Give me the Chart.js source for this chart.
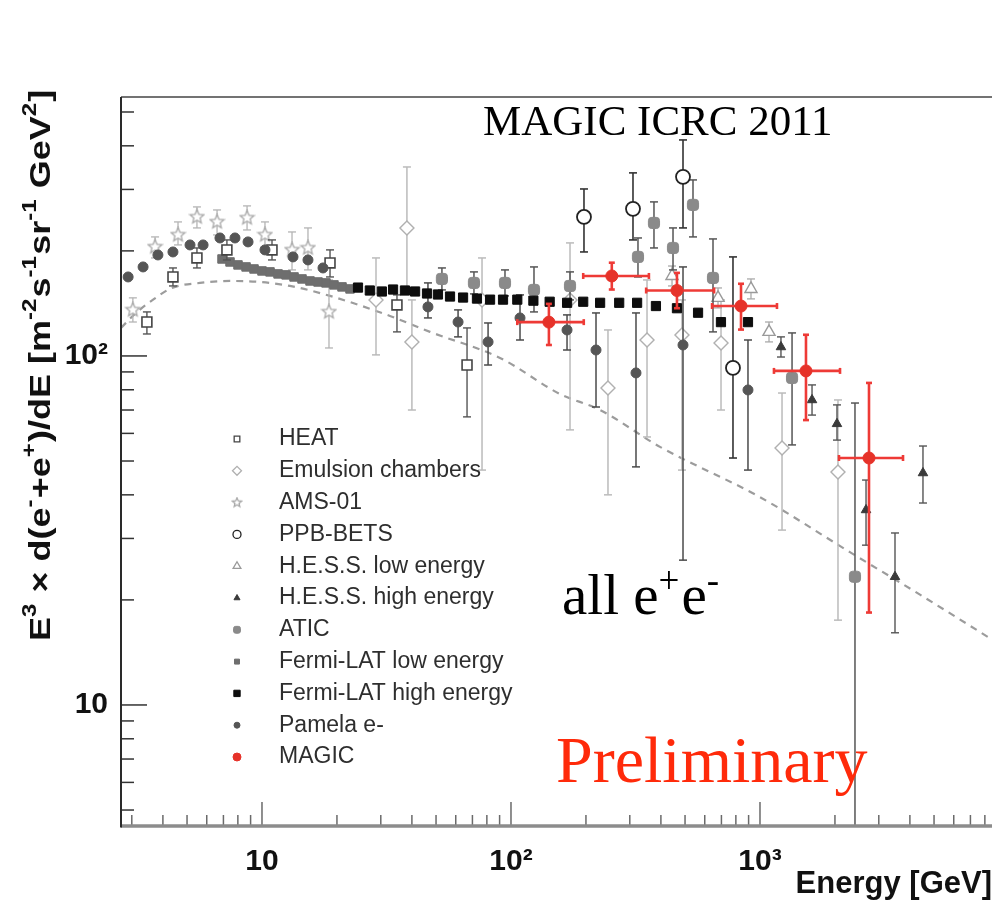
<!DOCTYPE html>
<html>
<head>
<meta charset="utf-8">
<script src="https://cdn.jsdelivr.net/npm/chart.js@4.4.1/dist/chart.umd.min.js"></script>
<style>
  html, body { margin: 0; padding: 0; background: #fff; }
  canvas { display: block; }
</style>
</head>
<body>
<canvas id="c" width="992" height="903"></canvas>
<script>
// ---- Data: energy E [GeV], E^3-weighted flux F and its lower / upper limits ----
const heatE  = [3.45, 4.39, 5.48, 7.23, 10.97, 18.76, 34.84, 66.6];
const heatF  = [125.1, 168.4, 190.9, 201.3, 201.3, 184.7, 140.0, 94.2];
const heatLo = [115.6, 158.7, 178.7, 188.4, 188.4, 168.4, 117.2, 66.9];
const heatHi = [133.7, 178.7, 203.9, 215.0, 215.0, 201.3, 149.6, 120.3];

const emulsionE  = [28.7, 38.2, 40.0, 76.5, 172.6, 245.2, 351.8, 486, 697.4, 1226, 2057];
const emulsionF  = [144.7, 232.7, 109.7, 144.7, 144.7, 81.0, 111.1, 114.9, 108.9, 54.5, 46.5];
const emulsionLo = [100.7, 154.6, 70.0, 47.1, 61.4, 40.0, 58.6, 47.1, 70.0, 31.7, 17.5];
const emulsionHi = [190.9, 347.9, 144.7, 190.9, 210.8, 118.7, 165.1, 144.7, 144.7, 78.3, 74.8];

const amsE  = [3.03, 3.72, 4.60, 5.48, 6.60, 8.71, 10.28, 13.2, 15.3, 18.58];
const amsF  = [135.5, 205.3, 222.2, 250.2, 242.1, 248.6, 222.2, 201.3, 203.9, 133.7];
const amsLo = [125.1, 190.9, 208.0, 232.7, 222.2, 229.6, 203.9, 176.4, 176.4, 105.4];
const amsHi = [146.7, 219.3, 242.1, 267.3, 262.0, 269.1, 242.1, 226.6, 232.7, 165.1];

const ppbE  = [196.4, 309.0, 490.7, 779.0];
const ppbF  = [250.2, 263.9, 325.9, 92.4];
const ppbLo = [198.6, 215.0, 232.7, 51.0];
const ppbHi = [300.9, 334.6, 415.8, 192.2];

const hessLowE  = [443.3, 678.3, 920.1, 1087];
const hessLowF  = [169.5, 146.7, 155.6, 117.2];
const hessLowLo = [158.7, 137.3, 145.7, 109.7];
const hessLowHi = [181.0, 156.6, 166.2, 125.1];

const hessHighE  = [1214, 1618, 2038, 2666, 3485, 4514];
const hessHighF  = [106.1, 74.8, 63.9, 36.2, 23.3, 46.2];
const hessHighLo = [99.3, 67.7, 57.4, 28.7, 16.1, 37.9];
const hessHighHi = [113.4, 82.6, 72.4, 44.1, 31.1, 55.2];

const aticE  = [52.8, 71.0, 94.6, 123.7, 172.6, 323.6, 375.2, 447.4, 538.2, 647.6, 1345, 2407];
const aticF  = [166.2, 161.9, 161.9, 154.6, 158.7, 192.2, 240.5, 203.9, 270.9, 167.3, 86.5, 23.3];
const aticLo = [154.6, 150.6, 148.6, 133.7, 144.7, 168.4, 203.9, 176.4, 219.3, 117.2, 55.6, 4.5];
const aticHi = [178.7, 174.1, 176.4, 179.9, 174.1, 217.8, 276.3, 232.7, 319.4, 216.4, 116.4, 73.3];

const fermiLowE = [6.91, 7.44, 8.01, 8.63, 9.29, 10.0, 10.77, 11.6, 12.49, 13.45, 14.48, 15.59, 16.79, 18.07, 19.46, 20.96, 22.57];
const fermiLowF = [189.6, 185.9, 182.3, 179.9, 177.5, 175.2, 174.1, 171.8, 170.7, 168.4, 166.2, 164.0, 162.9, 161.9, 159.8, 157.7, 155.6];

const fermiHighE = [24.3, 27.1, 30.3, 33.6, 37.5, 41.2, 46.0, 50.9, 56.9, 64.2, 73.0, 82.4, 92.9, 106, 123, 143, 168, 195, 228, 272, 321, 382, 464, 564, 697, 895];
const fermiHighF = [157, 154, 153, 155, 154, 153, 151, 150, 148, 147, 146, 145, 145, 145, 144, 143, 142, 143, 142, 142, 142, 139, 137, 133, 125, 125];

const pamelaE  = [2.90, 3.33, 3.82, 4.39, 5.14, 5.80, 6.78, 7.79, 8.79, 10.28, 13.32, 15.30, 17.58, 46.4, 61.3, 80.9, 108.7, 167.9, 219.5, 317.7, 490.7, 894.9];
const pamelaF  = [168.4, 179.9, 194.7, 198.6, 208.0, 208.0, 217.8, 217.8, 212.2, 201.3, 192.2, 188.4, 178.7, 138.2, 125.1, 109.7, 128.5, 118.7, 104.0, 89.4, 107.5, 79.9];
const pamelaLo = [null, null, null, null, null, null, null, null, null, null, null, null, null, 128.5, 113.4, 94.2, 111.1, 104.0, 71.4, 48.1, 26.0, 47.1];
const pamelaHi = [null, null, null, null, null, null, null, null, null, null, null, null, null, 161.9, 135.5, 124.3, 149.6, 131.1, 132.8, 132.8, 179.9, 111.1];

const magicE   = [142, 254, 464, 839, 1530, 2740];
const magicELo = [106, 195, 349, 642, 1138, 2076];
const magicEHi = [196, 358, 654, 1170, 2096, 3753];
const magicF   = [125, 169.5, 154, 139, 90.6, 51.0];
const magicLo  = [107.5, 155, 137, 119, 65.5, 18.4];
const magicHi  = [141, 185, 173, 161, 115, 83.7];

// Dashed reference curve
const modelE = [2.715, 3.09, 3.55, 4.35, 5.64, 7.44, 9.82, 12.95, 18.76, 32.66, 47.29, 90.33, 157.3, 227.8, 396.6, 1000, 2298, 4391, 8546];
const modelF = [120.3, 132.0, 142.8, 156.6, 161.9, 164.0, 162.9, 158.7, 148.6, 130.2, 117.2, 98.7, 77.8, 70.0, 54.9, 39.4, 27.4, 20.7, 15.4];

// Axis ranges and ticks
const xRange = [2.715, 8546];
const yRange = [4.5, 552];
const xTickValues = [3,4,5,6,7,8,9,10,20,30,40,50,60,70,80,90,100,200,300,400,500,600,700,800,900,1000,2000,3000,4000,5000,6000,7000,8000];
const xTickLabels = {10: '10', 100: '10²', 1000: '10³'};
const yTickValues = [5,6,7,8,9,10,20,30,40,50,60,70,80,90,100,200,300,400,500];
const yTickLabels = {10: '10', 100: '10²'};

// Y-axis title as [text, isSuperscript] pieces
const yTitleParts = [['E', 0], ['3', 1], [' × d(e', 0], ['-', 1], ['+e', 0], ['+', 1], [')/dE [m', 0],
  ['-2', 1], ['s', 0], ['-1', 1], ['sr', 0], ['-1', 1], [' GeV', 0], ['2', 1], [']', 0]];

const legendOrder = ['HEAT', 'Emulsion chambers', 'AMS-01', 'PPB-BETS', 'H.E.S.S. low energy',
  'H.E.S.S. high energy', 'ATIC', 'Fermi-LAT low energy', 'Fermi-LAT high energy', 'Pamela e-', 'MAGIC'];

// ---- helpers ----
const pts = (xs, ys) => xs.map((x, i) => ({x: x, y: ys[i]}));

function starImage(size, color) {
  const c = document.createElement('canvas');
  c.width = c.height = size;
  const g = c.getContext('2d');
  const cx = size / 2, cy = size / 2, R = size / 2 - 1.2, r = R * 0.45;
  g.beginPath();
  for (let k = 0; k < 10; k++) {
    const a = -Math.PI / 2 + k * Math.PI / 5;
    const rr = (k % 2) ? r : R;
    g.lineTo(cx + rr * Math.cos(a), cy + rr * Math.sin(a));
  }
  g.closePath();
  g.fillStyle = '#fff'; g.fill();
  g.strokeStyle = color; g.lineWidth = 1.3; g.stroke();
  return c;
}
const starBig = starImage(17, '#a8a8a8');
const starSmall = starImage(12, '#a8a8a8');

function series(label, xs, ys, style, extra) {
  return Object.assign({
    label: label,
    data: pts(xs, ys),
    pointStyle: style.shape,
    pointRadius: style.r,
    pointBackgroundColor: style.fill,
    pointBorderColor: style.stroke,
    pointBorderWidth: style.bw,
    legendRadius: style.lr,
    legendImage: style.limg
  }, extra || {});
}

const datasets = [
  series('MAGIC', magicE, magicF, {shape: 'circle', r: 6, fill: '#e63229', stroke: '#e63229', bw: 1, lr: 4},
    {errLo: magicLo, errHi: magicHi, errXLo: magicELo, errXHi: magicEHi, errColor: '#ee3a36', errWidth: 2.6, cap: 3}),
  series('PPB-BETS', ppbE, ppbF, {shape: 'circle', r: 7, fill: '#fff', stroke: '#222', bw: 1.8, lr: 4},
    {errLo: ppbLo, errHi: ppbHi, errColor: '#333', errWidth: 1.6, cap: 4}),
  series('Fermi-LAT high energy', fermiHighE, fermiHighF, {shape: 'rect', r: 6.5, fill: '#0d0d0d', stroke: '#0d0d0d', bw: 1, lr: 4.5}),
  series('H.E.S.S. high energy', hessHighE, hessHighF, {shape: 'triangle', r: 5.5, fill: '#3a3a3a', stroke: '#3a3a3a', bw: 1, lr: 3.5},
    {errLo: hessHighLo, errHi: hessHighHi, errColor: '#555', errWidth: 1.4, cap: 4}),
  series('Pamela e-', pamelaE, pamelaF, {shape: 'circle', r: 5, fill: '#555', stroke: '#555', bw: 1, lr: 3},
    {errLo: pamelaLo, errHi: pamelaHi, errColor: '#4a4a4a', errWidth: 1.5, cap: 4}),
  series('ATIC', aticE, aticF, {shape: 'rectRounded', r: 6.5, fill: '#8a8a8a', stroke: '#8a8a8a', bw: 1, lr: 4},
    {errLo: aticLo, errHi: aticHi, errColor: '#555', errWidth: 1.5, cap: 4}),
  series('HEAT', heatE, heatF, {shape: 'rect', r: 7, fill: '#fff', stroke: '#444', bw: 1.6, lr: 4},
    {errLo: heatLo, errHi: heatHi, errColor: '#555', errWidth: 1.4, cap: 4}),
  series('Fermi-LAT low energy', fermiLowE, fermiLowF, {shape: 'rect', r: 6, fill: '#6e6e6e', stroke: '#6e6e6e', bw: 1, lr: 3.5}),
  series('H.E.S.S. low energy', hessLowE, hessLowF, {shape: 'triangle', r: 7, fill: '#fff', stroke: '#9a9a9a', bw: 1.4, lr: 4.5},
    {errLo: hessLowLo, errHi: hessLowHi, errColor: '#aaa', errWidth: 1.3, cap: 4}),
  series('AMS-01', amsE, amsF, {shape: starBig, r: 7, fill: '#fff', stroke: '#a8a8a8', bw: 1.3, lr: 4, limg: starSmall},
    {errLo: amsLo, errHi: amsHi, errColor: '#b4b4b4', errWidth: 1.3, cap: 4}),
  series('Emulsion chambers', emulsionE, emulsionF, {shape: 'rectRot', r: 7, fill: '#fff', stroke: '#b0b0b0', bw: 1.4, lr: 4.5},
    {errLo: emulsionLo, errHi: emulsionHi, errColor: '#bbb', errWidth: 1.5, cap: 4}),
  {
    label: 'model',
    data: pts(modelE, modelF),
    showLine: true,
    pointRadius: 0,
    borderColor: '#9c9c9c',
    borderWidth: 2.2,
    borderDash: [7, 6],
    cubicInterpolationMode: 'monotone',
    fill: false
  }
];

function seg(ctx, x1, y1, x2, y2) {
  ctx.beginPath(); ctx.moveTo(x1, y1); ctx.lineTo(x2, y2); ctx.stroke();
}

// Error bars, drawn just beneath each dataset's own markers
const errorBars = {
  id: 'errorBars',
  beforeDatasetDraw(chart, args) {
    const ds = chart.data.datasets[args.index];
    if (!ds.errLo && !ds.errXLo) return;
    const ctx = chart.ctx, a = chart.chartArea;
    const xs = chart.scales.x, ys = chart.scales.y;
    ctx.save();
    ctx.beginPath();
    ctx.rect(a.left, a.top, a.right - a.left, a.bottom - a.top);
    ctx.clip();
    ctx.strokeStyle = ds.errColor;
    ctx.lineWidth = ds.errWidth || 1.5;
    const cap = ds.cap || 0;
    ds.data.forEach((p, i) => {
      const px = xs.getPixelForValue(p.x), py = ys.getPixelForValue(p.y);
      if (ds.errLo && ds.errLo[i] != null) {
        const y1 = ys.getPixelForValue(ds.errLo[i]);
        const y2 = ys.getPixelForValue(ds.errHi[i]);
        seg(ctx, px, y1, px, y2);
        if (cap) { seg(ctx, px - cap, y1, px + cap, y1); seg(ctx, px - cap, y2, px + cap, y2); }
      }
      if (ds.errXLo) {
        const x1 = xs.getPixelForValue(ds.errXLo[i]);
        const x2 = xs.getPixelForValue(ds.errXHi[i]);
        seg(ctx, x1, py, x2, py);
        if (cap) { seg(ctx, x1, py - cap, x1, py + cap); seg(ctx, x2, py - cap, x2, py + cap); }
      }
    });
    ctx.restore();
  }
};

// Frame with inward-pointing ticks
const frame = {
  id: 'frame',
  afterDatasetsDraw(chart) {
    const ctx = chart.ctx, a = chart.chartArea;
    const xs = chart.scales.x, ys = chart.scales.y;
    ctx.save();
    ctx.lineCap = 'butt';
    ctx.strokeStyle = '#6a6a6a'; ctx.lineWidth = 1.5;
    xTickValues.forEach(v => {
      const px = xs.getPixelForValue(v);
      seg(ctx, px, a.bottom, px, a.bottom - (xTickLabels[v] ? 24 : 11));
    });
    ctx.strokeStyle = '#333'; ctx.lineWidth = 1.5;
    yTickValues.forEach(v => {
      const py = ys.getPixelForValue(v);
      seg(ctx, a.left, py, a.left + (yTickLabels[v] ? 26 : 13), py);
    });
    ctx.strokeStyle = '#444'; ctx.lineWidth = 1.6;
    seg(ctx, a.left, a.top, a.right, a.top);
    ctx.strokeStyle = '#8c8c8c'; ctx.lineWidth = 3.5;
    seg(ctx, a.left, a.bottom, a.right, a.bottom);
    ctx.strokeStyle = '#2a2a2a'; ctx.lineWidth = 2;
    seg(ctx, a.left, a.top, a.left, a.bottom + 1.5);
    ctx.restore();
  }
};

// Legend block, axis title and text labels inside the plot
const overlay = {
  id: 'overlay',
  afterDraw(chart) {
    const ctx = chart.ctx, a = chart.chartArea;
    ctx.save();
    // legend
    const lx = a.left + 116, tx = a.left + 158, ly0 = 439, dy = 31.8;
    ctx.font = '23px "Liberation Sans", Arial, sans-serif';
    ctx.textBaseline = 'middle';
    legendOrder.forEach((name, k) => {
      const ds = chart.data.datasets.find(d => d.label === name);
      const y = ly0 + k * dy;
      ctx.fillStyle = ds.pointBackgroundColor;
      ctx.strokeStyle = ds.pointBorderColor;
      ctx.lineWidth = Math.min(ds.pointBorderWidth, 1.3);
      Chart.helpers.drawPoint(ctx, {
        pointStyle: ds.legendImage || ds.pointStyle,
        radius: ds.legendRadius,
        rotation: 0,
        borderWidth: ctx.lineWidth
      }, lx, y);
      ctx.fillStyle = '#2e2e2e';
      ctx.fillText(name, tx, y);
    });

    // rotated y-axis title with raised superscripts
    ctx.save();
    ctx.translate(50, 641);
    ctx.rotate(-Math.PI / 2);
    ctx.scale(1.2, 1);
    ctx.textBaseline = 'alphabetic';
    ctx.fillStyle = '#111';
    let tx0 = 0;
    yTitleParts.forEach(p => {
      ctx.font = p[1] ? 'bold 20px "Liberation Sans", Arial, sans-serif'
                      : 'bold 30px "Liberation Sans", Arial, sans-serif';
      ctx.fillText(p[0], tx0, p[1] ? -14 : 0);
      tx0 += ctx.measureText(p[0]).width + (p[1] ? 1 : 0);
    });
    ctx.restore();

    // title text
    ctx.textBaseline = 'alphabetic';
    ctx.fillStyle = '#000';
    ctx.font = '43px "Liberation Serif", "Times New Roman", serif';
    ctx.fillText('MAGIC ICRC 2011', 483, 135);

    // all e+e-
    let x = 562;
    const base = 614;
    const big = '57px "Liberation Serif", "Times New Roman", serif';
    const sup = '37px "Liberation Serif", "Times New Roman", serif';
    const parts = [['all e', big, 0], ['+', sup, -21], ['e', big, 0], ['-', sup, -21]];
    parts.forEach(p => {
      ctx.font = p[1];
      ctx.fillText(p[0], x, base + p[2]);
      x += ctx.measureText(p[0]).width + (p[1] === sup ? 2 : 0);
    });

    // Preliminary
    ctx.fillStyle = '#ff2a0a';
    ctx.font = '66px "Liberation Serif", "Times New Roman", serif';
    ctx.fillText('Preliminary', 556, 782);
    ctx.restore();
  }
};

const tickFont = {family: '"Liberation Sans", Arial, sans-serif', size: 30, weight: 'bold'};

new Chart(document.getElementById('c'), {
  type: 'scatter',
  data: {datasets: datasets},
  options: {
    responsive: false,
    animation: false,
    events: [],
    layout: {autoPadding: false, padding: {top: 97, right: 0, bottom: 0, left: 0}},
    plugins: {legend: {display: false}, tooltip: {enabled: false}},
    scales: {
      x: {
        type: 'logarithmic',
        min: xRange[0], max: xRange[1],
        position: 'bottom',
        afterBuildTicks: s => { s.ticks = xTickValues.map(v => ({value: v})); },
        afterFit: s => { s.height = 77; s.paddingLeft = 0; s.paddingRight = 0; },
        grid: {display: false},
        border: {display: false},
        ticks: {
          autoSkip: false, maxRotation: 0, minRotation: 0, padding: 10,
          color: '#111', font: tickFont,
          callback: v => xTickLabels[v] || ''
        },
        title: {
          display: true, text: 'Energy [GeV]', align: 'end', color: '#111',
          font: {family: '"Liberation Sans", Arial, sans-serif', size: 31, weight: 'bold'},
          padding: {top: 0, bottom: 0}
        }
      },
      y: {
        type: 'logarithmic',
        min: yRange[0], max: yRange[1],
        position: 'left',
        afterBuildTicks: s => { s.ticks = yTickValues.map(v => ({value: v})); },
        afterFit: s => { s.width = 121; s.paddingTop = 0; s.paddingBottom = 0; },
        grid: {display: false},
        border: {display: false},
        ticks: {
          autoSkip: false, padding: 5,
          color: '#111', font: tickFont,
          callback: v => yTickLabels[v] || ''
        }
      }
    }
  },
  plugins: [errorBars, frame, overlay]
});
</script>
</body>
</html>
